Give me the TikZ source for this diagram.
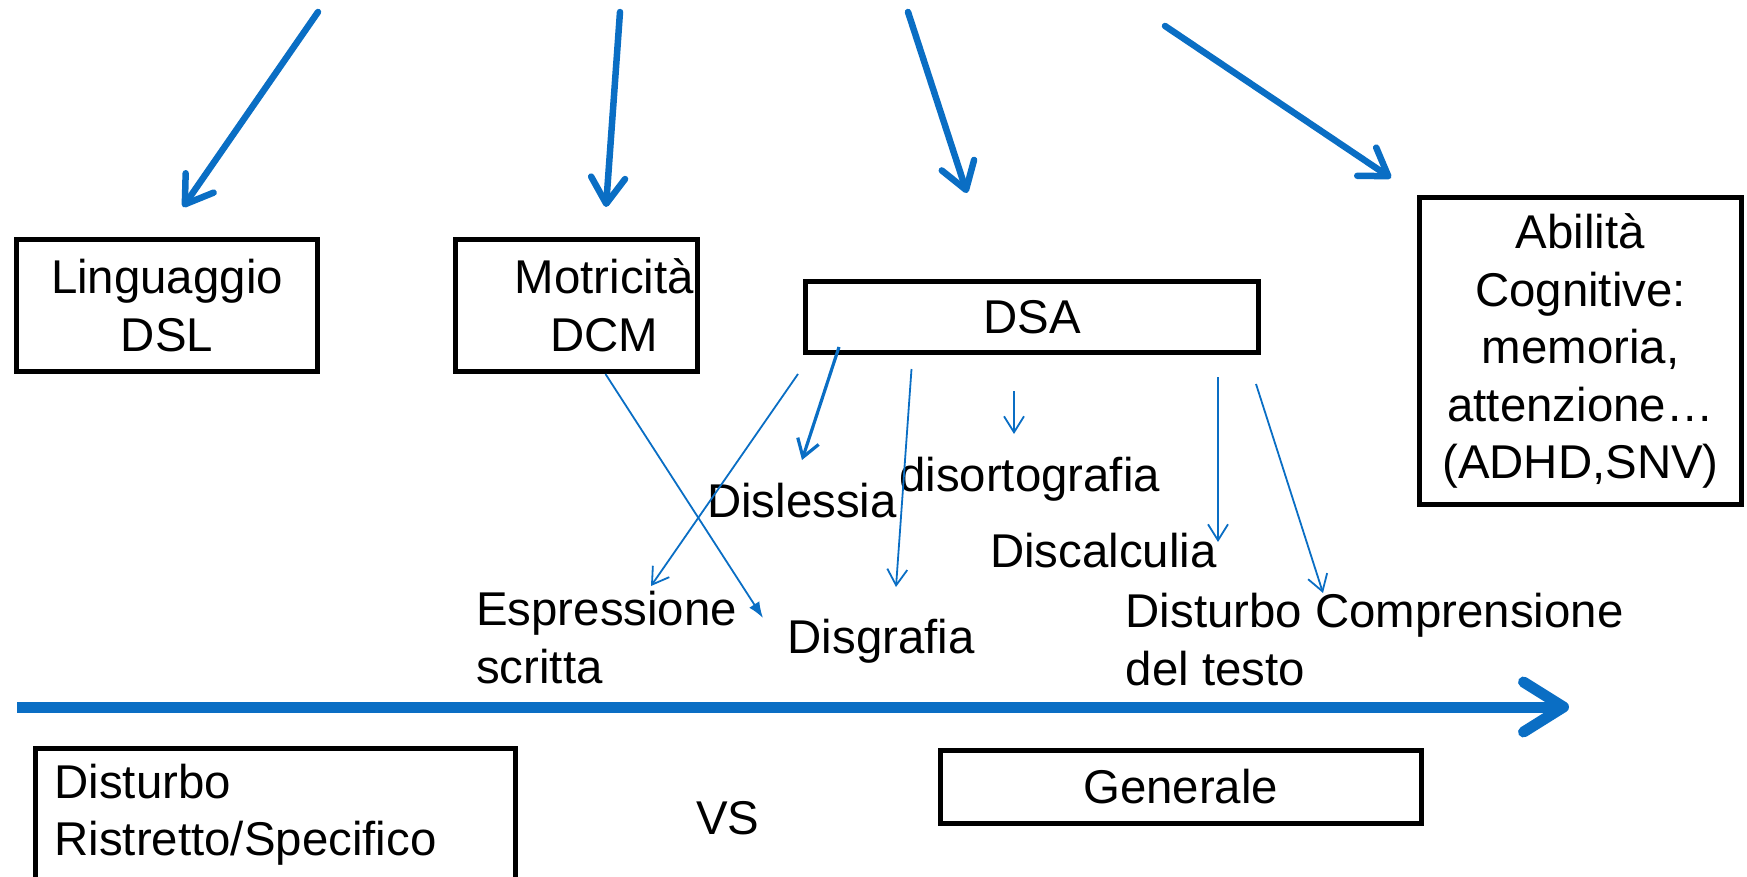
\documentclass[tikz,border=0pt]{standalone}
\usepackage{fontspec}
\setmainfont{Liberation Sans}
\usetikzlibrary{arrows.meta}
\definecolor{arrblue}{RGB}{10,110,196}
\newcommand{\diagfont}{\fontsize{47.4}{57.5}\selectfont}
\begin{document}
\begin{tikzpicture}[x=1pt,y=-1pt,
  every node/.style={font=\diagfont},
  box/.style={draw=black, line width=5pt, align=center, inner sep=0pt},
  lbl/.style={inner sep=0pt, anchor=base west, align=left},
  bigarrow/.style={draw=arrblue, line width=6.5pt, line cap=round, -{Straight Barb[length=26pt,width=34pt,round]}},
  axisarrow/.style={draw=arrblue, line width=11pt, -{Straight Barb[length=40pt,width=50pt,round]}},
  thinarrow/.style={draw=arrblue, line width=1.8pt, -{Straight Barb[length=16pt,width=20pt]}},
  midarrow/.style={draw=arrblue, line width=3.2pt, -{Straight Barb[length=17pt,width=22pt]}},
  fillarrow/.style={draw=arrblue, line width=1.8pt, -{Latex[length=16pt,width=12pt]}}
]
\useasboundingbox (0,0) rectangle (1747,877);

% boxes
\node[box, minimum width=300.5pt, minimum height=132pt] (ling) at (167,305.5) {Linguaggio\\DSL};
\node[box, minimum width=242pt, minimum height=132pt] (mot) at (576.5,305.5) {\hspace*{56pt}Motricità\\\hspace*{56pt}DCM};
\node[box, minimum width=453pt, minimum height=71pt] (dsa) at (1032,317) {DSA};
\node[box, minimum width=322pt, minimum height=307pt] (abil) at (1580.5,351) {Abilità\\Cognitive:\\memoria,\\attenzione…\\(ADHD,SNV)};
\node[box, minimum width=480.5pt, minimum height=73pt] (gen) at (1180.75,787) {Generale};
\node[box, anchor=north west, minimum height=133.5pt, text width=441.5pt, inner xsep=19pt, align=left] (restr) at (33,745.5) {Disturbo\\Ristretto/Specifico};

% labels
\node[lbl] (disl) at (707,517) {Dislessia};
\node[lbl] (disort) at (899,491) {disortografia};
\node[lbl] (discalc) at (990,567) {Discalculia};
\node[lbl] (espr) at (476,683) {Espressione\\scritta};
\node[lbl] (disgr) at (787.5,653) {Disgrafia};
\node[lbl] (comp) at (1125.5,685) {Disturbo Comprensione\\del testo};
\node[lbl] (vs) at (696,834) {VS};

% coordinates
\coordinate (s1) at (318,12);   \coordinate (t1) at (183,207);
\coordinate (s2) at (620,12);   \coordinate (t2) at (606,207);
\coordinate (s3) at (908,12);   \coordinate (t3) at (967,193);
\coordinate (s4) at (1165,26);  \coordinate (t4) at (1391,178);
\coordinate (axs) at (17,707);  \coordinate (axe) at (1569,707);
\coordinate (da) at (839,347);  \coordinate (dat) at (802,460);
\coordinate (eb) at (798,374);  \coordinate (ebt) at (651,586);
\coordinate (mc) at (605.5,374); \coordinate (mct) at (763,618);
\coordinate (gd) at (911.5,369); \coordinate (gdt) at (896,587);
\coordinate (oe) at (1014,391); \coordinate (oet) at (1014,434);
\coordinate (cf) at (1218,377); \coordinate (cft) at (1218,542);
\coordinate (pg) at (1256,384); \coordinate (pgt) at (1323,593);

% big arrows
\draw[bigarrow] (s1) -- (t1);
\draw[bigarrow] (s2) -- (t2);
\draw[bigarrow] (s3) -- (t3);
\draw[bigarrow] (s4) -- (t4);
\draw[axisarrow] (axs) -- (axe);

% thin arrows
\draw[midarrow] (da) -- (dat);
\draw[thinarrow] (eb) -- (ebt);
\draw[fillarrow] (mc) -- (mct);
\draw[thinarrow] (gd) -- (gdt);
\draw[thinarrow] (oe) -- (oet);
\draw[thinarrow] (cf) -- (cft);
\draw[thinarrow] (pg) -- (pgt);
\end{tikzpicture}
\end{document}
